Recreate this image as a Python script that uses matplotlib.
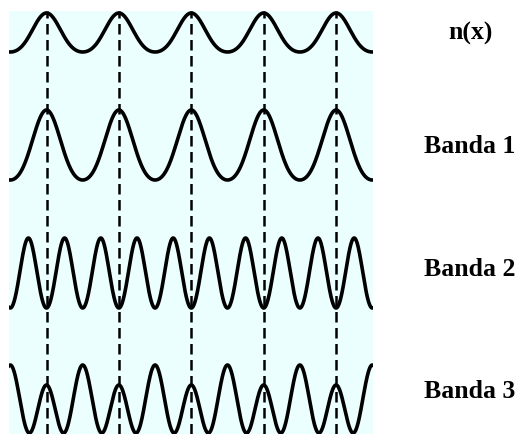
import matplotlib
matplotlib.use("Agg")
import matplotlib.pyplot as plt
import numpy as np

# lattice sites (dashed lines), in units of the lattice constant
sites = [0, 1, 2, 3, 4]
x_range = (-0.518, 4.51)

# labels on the right
labels = ["n(x)", "Banda 1", "Banda 2", "Banda 3"]
label_y = [33, 147, 270, 392]   # px from top

# band curves: centre, amplitude (px), shape
band_mid = [401.5, 289, 161]
band_amp = [19.5, 35, 35]
band_freq = [1, 1, 2]
band_skew = [0.12, 0.12, 0.03]
band_sign = [1, 1, -1]   # +1: peak on sites, -1: trough on sites

# Banda 3: A cos(2kx) - B cos(kx) + offset
b3_A = 28.8
b3_B = 10.0
b3_off = 30.2

W, H = 523, 434
fig = plt.figure(figsize=(W / 100, H / 100), dpi=100)
ax = fig.add_axes([9 / W, 0, (373 - 9) / W, 423 / H])
ax.set_facecolor("#ebffff")
ax.set_xlim(*x_range)
ax.set_ylim(0, 423)
ax.set_axis_off()
ax.add_patch(plt.Rectangle((0, 0), 1, 1, transform=ax.transAxes,
                           facecolor="#ebffff", edgecolor="none", zorder=0))

x = np.linspace(x_range[0] - 0.05, x_range[1] + 0.05, 1500)
th = 2 * np.pi * x

for mid, amp, fr, sk, sg in zip(band_mid, band_amp, band_freq, band_skew, band_sign):
    f = sg * np.cos(fr * th) + sk * np.cos(2 * fr * th) - sk
    ax.plot(x, mid + amp * f, color="black", lw=2.6, solid_capstyle="round")

y3 = b3_A * np.cos(2 * th) - b3_B * np.cos(th) + b3_off
ax.plot(x, y3, color="black", lw=2.6)

for s in sites:
    ax.axvline(s, color="black", lw=1.8, ls=(0, (4.2, 2.2)), zorder=1)

for lab, yy in zip(labels, label_y):
    fig.text(470 / W, 1 - yy / H, lab, ha="center", va="center",
             fontsize=18.5, fontweight="bold", family="Liberation Serif")

fig.savefig("out.png", dpi=100)
